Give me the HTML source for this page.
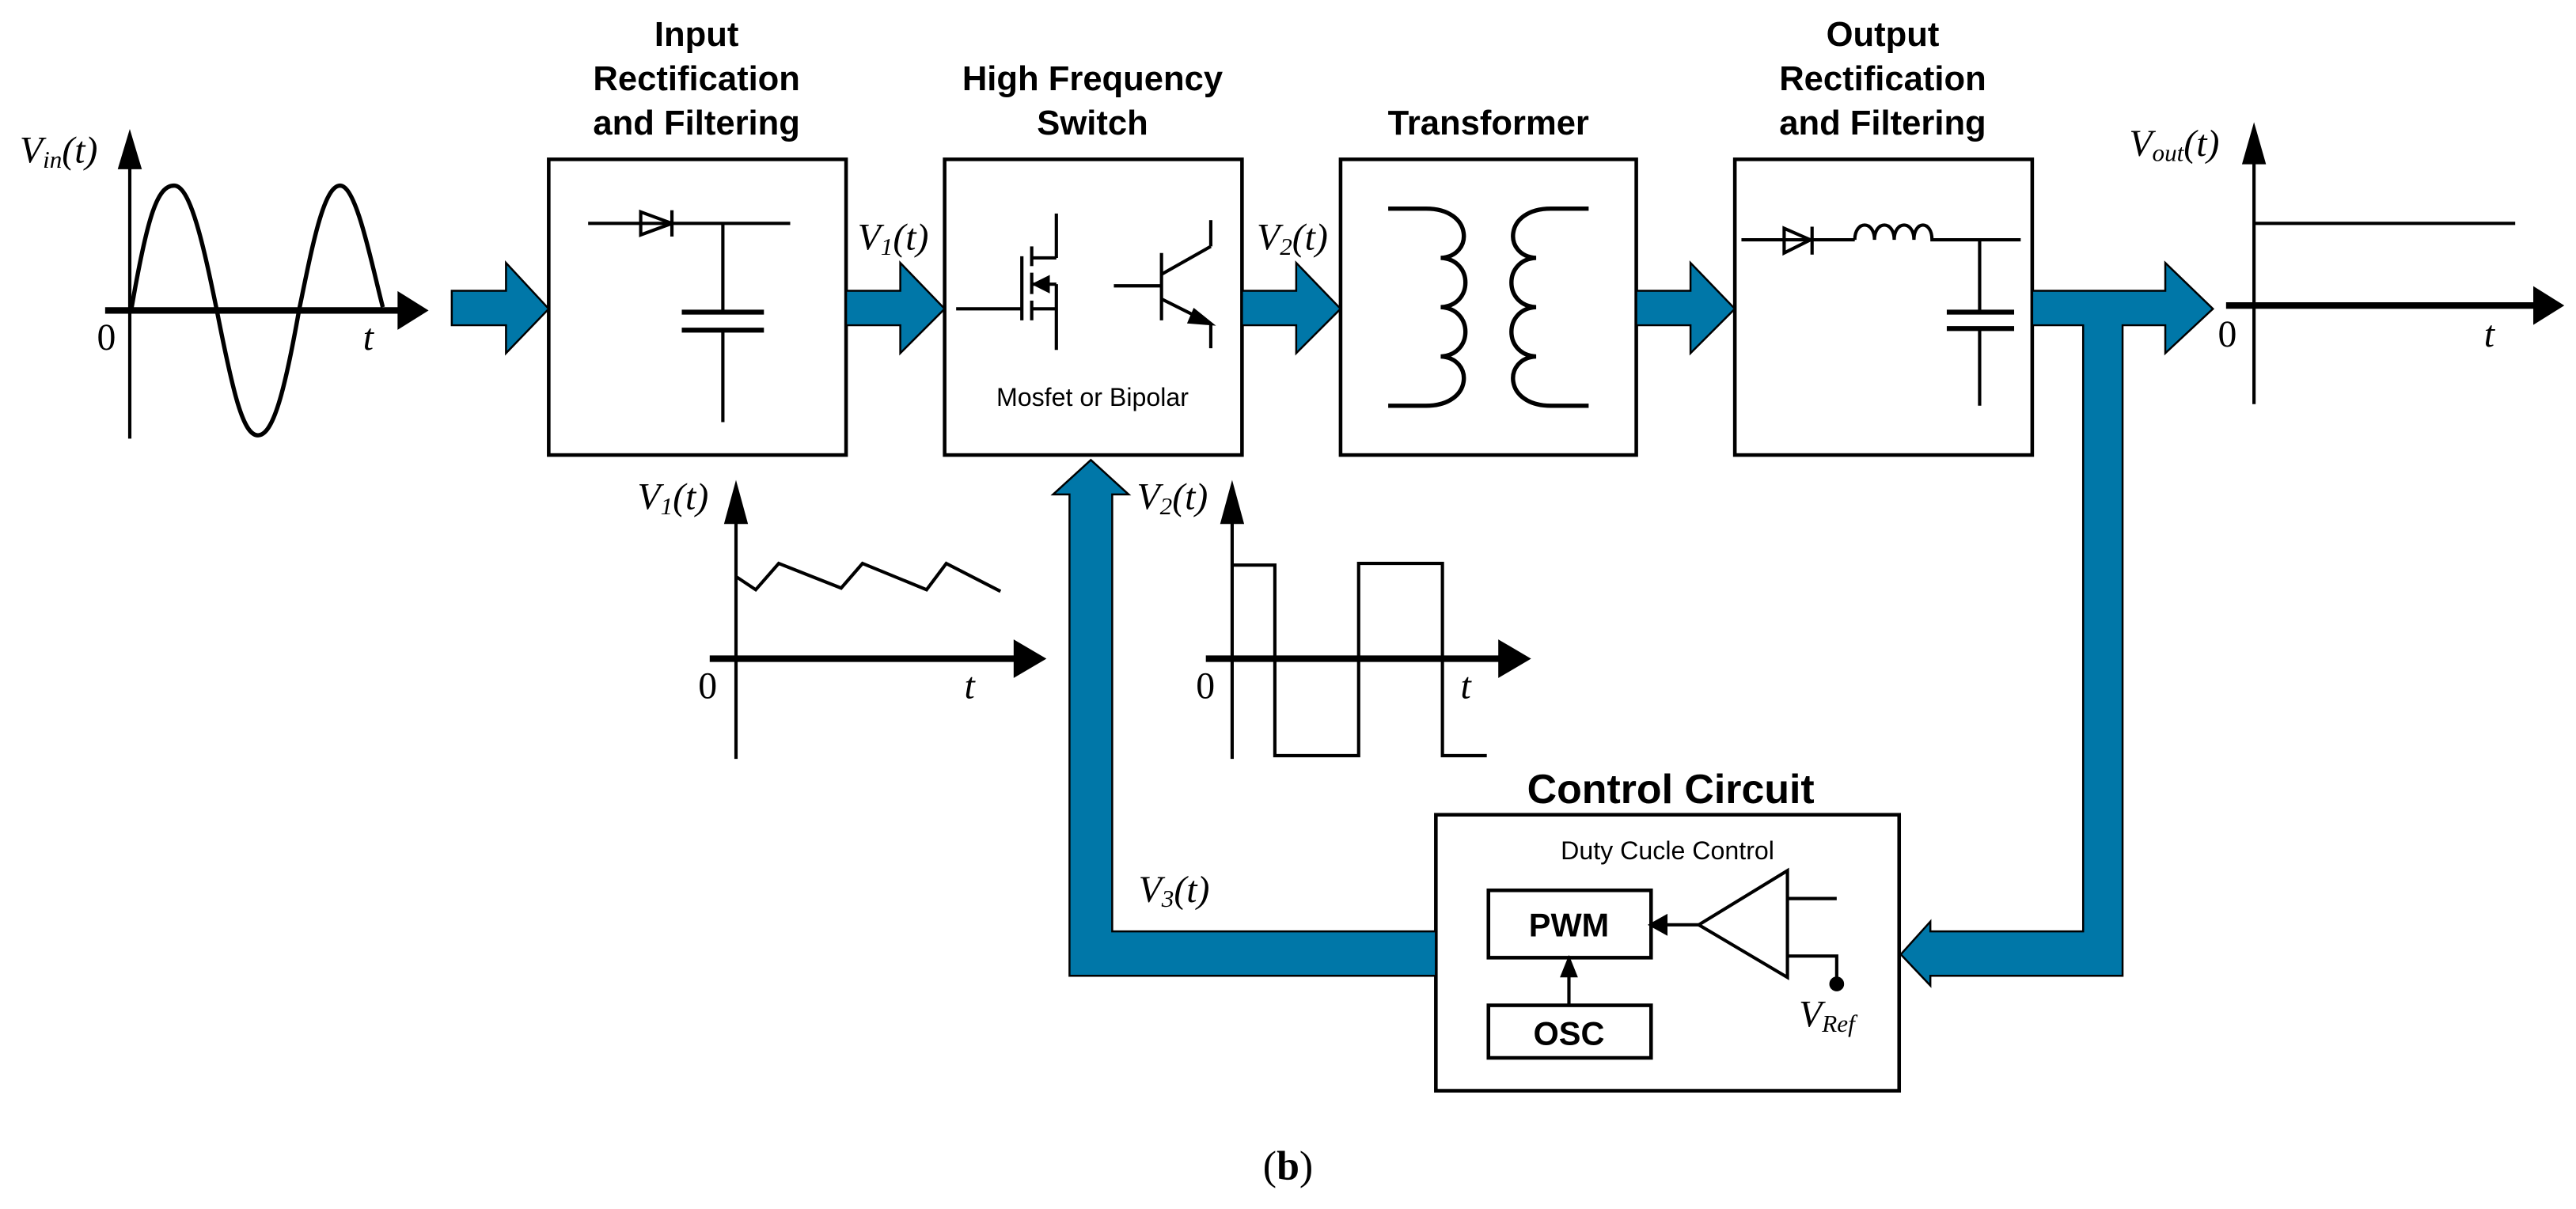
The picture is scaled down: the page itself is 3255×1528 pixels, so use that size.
<!DOCTYPE html>
<html><head><meta charset="utf-8"><style>
html,body{margin:0;padding:0;background:#fff;}
svg{display:block;}
.t{font-family:"Liberation Sans",sans-serif;font-weight:bold;font-size:21px;text-anchor:middle;}
.s{font-family:"Liberation Sans",sans-serif;font-size:15.5px;text-anchor:middle;}
.i{font-family:"Liberation Serif",serif;font-style:italic;font-size:23px;}
.n{font-family:"Liberation Serif",serif;font-size:23px;}
</style></head><body>
<svg width="3255" height="1528" viewBox="0 0 1568 736" preserveAspectRatio="none" xmlns="http://www.w3.org/2000/svg">
<g fill="none" stroke="#000" stroke-width="2.2">
<rect x="334" y="97" width="181" height="180"/>
<rect x="575" y="97" width="181" height="180"/>
<rect x="816" y="97" width="180" height="180"/>
<rect x="1056" y="97" width="181" height="180"/>
<rect x="874" y="496" width="282" height="168"/>
<rect x="906" y="542" width="99" height="41"/>
<rect x="906" y="612" width="99" height="32"/>
</g>
<g class="t">
<text x="424" y="28">Input</text><text x="424" y="55">Rectification</text><text x="424" y="82">and Filtering</text>
<text x="665" y="55">High Frequency</text><text x="665" y="82">Switch</text>
<text x="906" y="82">Transformer</text>
<text x="1146" y="28">Output</text><text x="1146" y="55">Rectification</text><text x="1146" y="82">and Filtering</text>
<text x="1017" y="489" font-size="25">Control Circuit</text>
<text x="955" y="570" font-size="20">PWM</text>
<text x="955" y="636" font-size="20">OSC</text>
</g>
<text class="s" x="665" y="247">Mosfet or Bipolar</text>
<text class="s" x="1015" y="523">Duty Cucle Control</text>
<g fill="#0077a8" stroke="#000" stroke-width="1.2">
<path d="M275,177 H308 V160 L334,188 L308,215 V198 H275 Z"/>
<path d="M515,177 H548 V160 L575,188 L548,215 V198 H515 Z"/>
<path d="M756,177 H789 V160 L816,188 L789,215 V198 H756 Z"/>
<path d="M996,177 H1029 V160 L1056,188 L1029,215 V198 H996 Z"/>
<path d="M1237,177 H1318 V160 L1347,188 L1318,215 V198 H1292 V594 H1175 V600 L1157,581 L1175,561 V567 H1268 V198 H1237 Z"/>
<path d="M874,567 H677 V301 H687 L664,280 L641,301 H651 V594 H874 Z"/>
</g>
<g fill="none" stroke="#000" stroke-width="2">
<line x1="79" y1="267" x2="79" y2="95"/><path d="M73,102 L79,82 L85,102Z" fill="#000"/>
<line x1="64" y1="189" x2="245" y2="189" stroke-width="4"/><path d="M243,179 L259,189 L243,199Z" fill="#000"/>
<path d="M80,188 C90,130 96,113 106,113 C116,113 124,150 132,189 C142,240 148,265 157,265 C166,265 173,240 182,189 C190,150 197,113 207,113 C217,113 226,160 233,187" stroke-width="2.6"/>
<line x1="358" y1="136" x2="481" y2="136"/>
<path d="M390,129 L390,143 L409,136 Z"/><line x1="409" y1="128" x2="409" y2="144"/>
<line x1="440" y1="136" x2="440" y2="190"/><line x1="440" y1="201" x2="440" y2="257"/>
<line x1="415" y1="190" x2="465" y2="190" stroke-width="3"/><line x1="415" y1="201" x2="465" y2="201" stroke-width="3"/>
<line x1="582" y1="188" x2="622" y2="188"/><line x1="622" y1="156" x2="622" y2="195"/>
<line x1="628" y1="150" x2="628" y2="162"/><line x1="628" y1="166" x2="628" y2="179"/><line x1="628" y1="183" x2="628" y2="195"/>
<line x1="628" y1="157" x2="643" y2="157"/><line x1="643" y1="130" x2="643" y2="157"/>
<line x1="628" y1="173" x2="643" y2="173"/><line x1="628" y1="188" x2="643" y2="188"/><line x1="643" y1="173" x2="643" y2="213"/>
<path d="M630,173 L638,169 L638,177Z" fill="#000"/>
<line x1="678" y1="174" x2="707" y2="174"/><line x1="707" y1="154" x2="707" y2="195"/>
<line x1="707" y1="167" x2="737" y2="150"/><line x1="737" y1="134" x2="737" y2="150"/>
<line x1="707" y1="182" x2="737" y2="197"/><line x1="737" y1="197" x2="737" y2="212"/>
<path d="M737,197 L727,189 L724,196Z" fill="#000"/>
<path d="M845,127 H868 C897,127 897,156 877,157 C897,158 897,186 877,187 C897,188 897,216 877,217 C897,218 897,247 868,247 H845" stroke-width="2.6"/>
<path d="M967,127 H944 C915,127 915,156 935,157 C915,158 915,186 935,187 C915,188 915,216 935,217 C915,218 915,247 944,247 H967" stroke-width="2.6"/>
<line x1="1060" y1="146" x2="1129" y2="146"/>
<path d="M1086,139 L1086,154 L1102,146 Z"/><line x1="1103" y1="138" x2="1103" y2="155"/>
<path d="M1129,146 C1129,134 1141,134 1141,146 C1141,134 1153,134 1153,146 C1153,134 1165,134 1165,146 C1165,134 1176,134 1176,146 H1230"/>
<line x1="1205" y1="146" x2="1205" y2="190"/><line x1="1205" y1="200" x2="1205" y2="247"/>
<line x1="1185" y1="190" x2="1226" y2="190" stroke-width="3"/><line x1="1185" y1="200" x2="1226" y2="200" stroke-width="3"/>
<line x1="1372" y1="246" x2="1372" y2="92"/><path d="M1366,99 L1372,78 L1378,99Z" fill="#000"/>
<line x1="1355" y1="186" x2="1545" y2="186" stroke-width="4"/><path d="M1543,176 L1559,186 L1543,196Z" fill="#000"/>
<line x1="1372" y1="136" x2="1531" y2="136"/>
<line x1="448" y1="462" x2="448" y2="310"/><path d="M442,318 L448,296 L454,318Z" fill="#000"/>
<line x1="432" y1="401" x2="620" y2="401" stroke-width="4"/><path d="M618,391 L635,401 L618,411Z" fill="#000"/>
<path d="M448,351 L460,359 L474,343 L512,358 L525,343 L564,359 L576,343 L609,360"/>
<line x1="750" y1="462" x2="750" y2="310"/><path d="M744,318 L750,296 L756,318Z" fill="#000"/>
<line x1="734" y1="401" x2="915" y2="401" stroke-width="4"/><path d="M913,391 L930,401 L913,411Z" fill="#000"/>
<path d="M750,344 H776 V460 H827 V343 H878 V460 H905"/>
<line x1="955" y1="612" x2="955" y2="592"/><path d="M951,594 L955,584 L959,594Z" fill="#000"/>
<line x1="1034" y1="563" x2="1012" y2="563"/><path d="M1014,558 L1005,563 L1014,568Z" fill="#000"/>
<path d="M1034,563 L1088,530 L1088,595 Z"/>
<line x1="1088" y1="547" x2="1118" y2="547"/><path d="M1088,582 H1118 V598"/>
<circle cx="1118" cy="599" r="3.5" fill="#000"/>
</g>
<text class="i" x="12" y="99">V<tspan font-size="15" dy="3">in</tspan><tspan dy="-3">(t)</tspan></text>
<text class="n" x="59" y="213">0</text><text class="i" x="221" y="213">t</text>
<text class="i" x="522" y="152">V<tspan font-size="15" dy="3">1</tspan><tspan dy="-3">(t)</tspan></text>
<text class="i" x="765" y="152">V<tspan font-size="15" dy="3">2</tspan><tspan dy="-3">(t)</tspan></text>
<text class="i" x="1296" y="95">V<tspan font-size="15" dy="3">out</tspan><tspan dy="-3">(t)</tspan></text>
<text class="n" x="1350" y="211">0</text><text class="i" x="1512" y="211">t</text>
<text class="i" x="388" y="310">V<tspan font-size="15" dy="3">1</tspan><tspan dy="-3">(t)</tspan></text>
<text class="n" x="425" y="425">0</text><text class="i" x="587" y="425">t</text>
<text class="i" x="692" y="310">V<tspan font-size="15" dy="3">2</tspan><tspan dy="-3">(t)</tspan></text>
<text class="n" x="728" y="425">0</text><text class="i" x="889" y="425">t</text>
<text class="i" x="693" y="549">V<tspan font-size="15" dy="3">3</tspan><tspan dy="-3">(t)</tspan></text>
<text class="i" x="1095" y="625">V<tspan font-size="15" dy="3">Ref</tspan></text>
<text x="784" y="718" font-family="Liberation Serif,serif" font-size="25" text-anchor="middle">(<tspan font-weight="bold">b</tspan>)</text>
</svg>
</body></html>
